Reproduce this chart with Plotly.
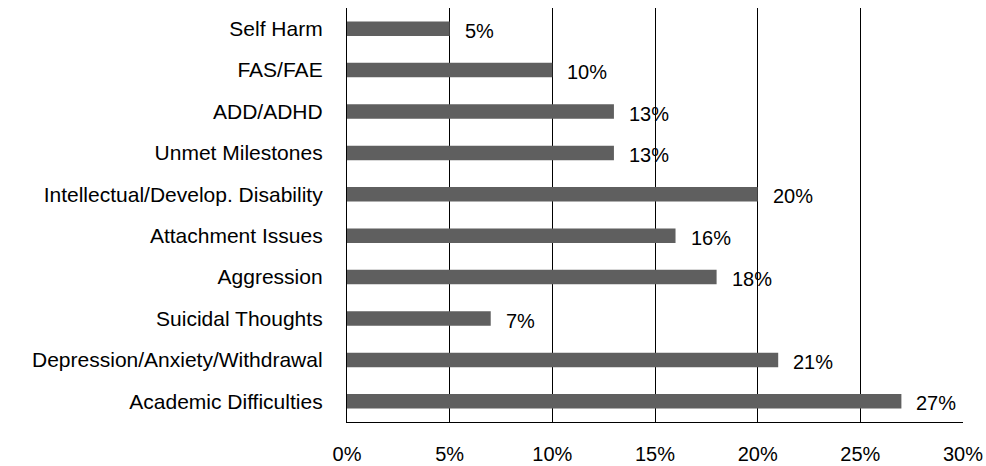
import plotly.graph_objects as go

categories = [
    "Academic Difficulties",
    "Depression/Anxiety/Withdrawal",
    "Suicidal Thoughts",
    "Aggression",
    "Attachment Issues",
    "Intellectual/Develop. Disability",
    "Unmet Milestones",
    "ADD/ADHD",
    "FAS/FAE",
    "Self Harm",
]
values = [27, 21, 7, 18, 16, 20, 13, 13, 10, 5]
tick_values = [0, 5, 10, 15, 20, 25, 30]
tick_labels = ["0%", "5%", "10%", "15%", "20%", "25%", "30%"]

FONT = "Liberation Sans, Arial, sans-serif"
FONT_SIZE = 20

fig = go.Figure(
    go.Bar(
        x=values,
        y=categories,
        orientation="h",
        marker=dict(color="#5f5f5f", line=dict(width=0)),
        width=0.35,
    )
)

# value labels just past the end of each bar
for cat, v in zip(categories, values):
    fig.add_annotation(
        x=v, y=cat, text=f"{v}%", showarrow=False,
        xanchor="left", xshift=13, yshift=-2,
        font=dict(family=FONT, size=FONT_SIZE, color="#000000"),
    )

fig.update_layout(
    width=986, height=466,
    margin=dict(l=347, r=23, t=8, b=44, autoexpand=False),
    paper_bgcolor="white", plot_bgcolor="white",
    showlegend=False,
    font=dict(family=FONT, size=FONT_SIZE, color="#000000"),
    xaxis=dict(
        range=[0, 30], tickvals=tick_values, ticktext=tick_labels,
        showgrid=True, gridcolor="#000000", gridwidth=1.3,
        showline=True, linecolor="#000000", linewidth=1.3,
        zeroline=False, ticks="", ticklabelstandoff=14, automargin=False,
    ),
    yaxis=dict(
        categoryorder="array", categoryarray=categories,
        showgrid=False, showline=True, linecolor="#000000", linewidth=1.3,
        ticks="", ticklabelstandoff=19, range=[-0.5, 9.5], automargin=False,
        tickfont=dict(family=FONT, size=21, color="#000000"),
    ),
)

fig.write_html("out.html")
